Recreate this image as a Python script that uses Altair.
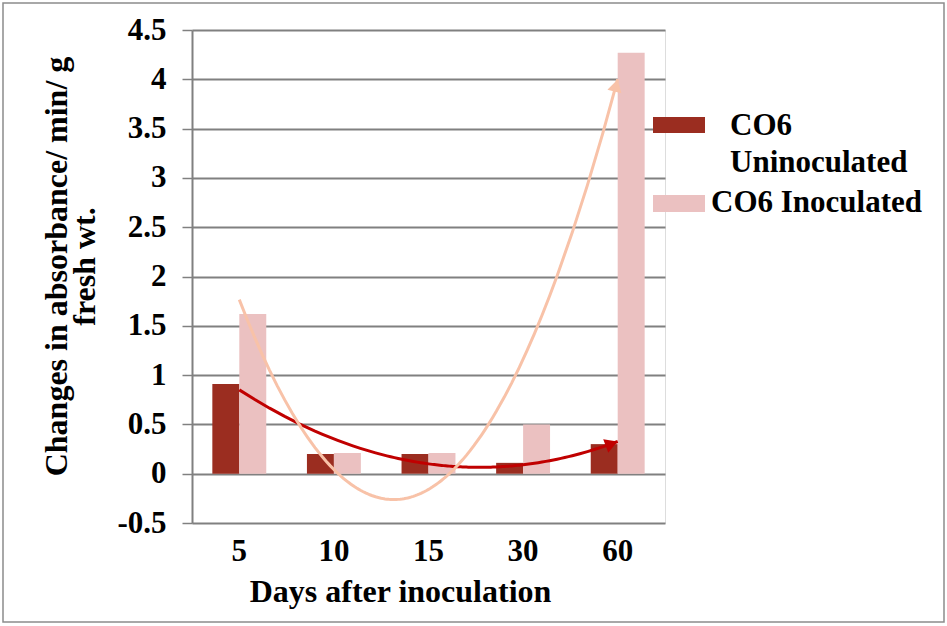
import altair as alt
import pandas as pd

# Days after inoculation and the two treatments
days = ["5", "10", "15", "30", "60"]
series = ["CO6 Uninoculated", "CO6 Inoculated"]
uninoculated = [0.91, 0.20, 0.20, 0.11, 0.30]
inoculated = [1.62, 0.21, 0.21, 0.50, 4.27]

bar_colors = ["#9B2D20", "#EBC1C1"]
trend_colors = ["#C00000", "#F8C2A8"]

rows = []
for i, d in enumerate(days):
    rows.append({"day": d, "idx": i + 1, "series": series[0], "value": uninoculated[i]})
    rows.append({"day": d, "idx": i + 1, "series": series[1], "value": inoculated[i]})
df = pd.DataFrame(rows)

W, H = 473, 493
SERIF = "Liberation Serif"
GRID = "#808080"

y_scale = alt.Scale(domain=[-0.5, 4.5], nice=False, zero=False)
idx_scale = alt.Scale(domain=[0.5, 5.5], nice=False, zero=False)

base = alt.Chart(df)

bars = base.mark_bar().encode(
    x=alt.X(
        "day:N", sort=days,
        scale=alt.Scale(paddingInner=0.43, paddingOuter=0.215),
        axis=alt.Axis(
            title="Days after inoculation", labelAngle=0, domain=False, ticks=False, grid=False,
            labelFont=SERIF, labelFontSize=31, labelFontWeight="bold", labelColor="black",
            labelPadding=13,
            titleFont=SERIF, titleFontSize=32, titleFontWeight="bold", titleColor="black",
            titlePadding=10, titleX=208,
        ),
    ),
    xOffset=alt.XOffset("series:N", sort=series, scale=alt.Scale(paddingInner=0, paddingOuter=0)),
    y=alt.Y(
        "value:Q", scale=y_scale,
        axis=alt.Axis(
            title=["Changes in absorbance/ min/ g", "fresh wt."],
            values=[-0.5, 0, 0.5, 1, 1.5, 2, 2.5, 3, 3.5, 4, 4.5],
            labelExpr="'' + datum.value",
            grid=True, gridColor=GRID, gridWidth=2,
            domain=True, domainColor=GRID, domainWidth=2,
            ticks=True, tickColor=GRID, tickWidth=1.5, tickSize=10,
            labelFont=SERIF, labelFontSize=31, labelFontWeight="bold", labelColor="black",
            labelPadding=16,
            titleFont=SERIF, titleFontSize=32, titleFontWeight="bold", titleColor="black",
            titlePadding=15, titleLineHeight=28, titleY=236,
        ),
    ),
    y2=alt.datum(0),
    color=alt.Color("series:N", sort=series,
                    scale=alt.Scale(domain=series, range=bar_colors), legend=None),
)


def trend(name, color):
    # second-order polynomial trendline through one treatment
    return base.transform_filter(alt.datum.series == name).transform_regression(
        "idx", "value", method="poly", order=2, extent=[1, 5]
    ).mark_line(color=color, strokeWidth=3).encode(
        x=alt.X("idx:Q", scale=idx_scale, axis=None),
        y=alt.Y("value:Q", scale=y_scale),
    )


def arrow(name, color):
    # arrowhead at the end of the trendline, turned along its slope
    px_x, px_y, h = W / 5, H / 5, 6.5
    return base.transform_filter(alt.datum.series == name).transform_regression(
        "idx", "value", method="poly", order=2, params=True
    ).transform_calculate(
        y_end="datum.coef[0] + datum.coef[1]*5 + datum.coef[2]*25",
        slope="datum.coef[1] + 2*datum.coef[2]*5",
    ).transform_calculate(
        ang=f"atan2({px_x}, datum.slope*{px_y})",
    ).transform_calculate(
        x_c=f"5 - {h}*sin(datum.ang)/{px_x}",
        y_c=f"datum.y_end - {h}*cos(datum.ang)/{px_y}",
        ang_deg="datum.ang*180/PI",
    ).mark_point(shape="triangle-up", filled=True, size=210, color=color, opacity=1).encode(
        x=alt.X("x_c:Q", scale=idx_scale, axis=None),
        y=alt.Y("y_c:Q", scale=y_scale),
        angle=alt.Angle("ang_deg:Q", scale=None),
    )


one = alt.Chart(alt.Data(values=[{}]))

# legend drawn beside the tallest bar
legend_font = dict(font=SERIF, fontSize=31, fontWeight="bold", color="black",
                   align="left", baseline="alphabetic")
leg_sym1 = one.mark_rect(color=bar_colors[0]).encode(
    x=alt.value(461), x2=alt.value(513), y=alt.value(87), y2=alt.value(103))
leg_sym2 = one.mark_rect(color=bar_colors[1]).encode(
    x=alt.value(461), x2=alt.value(513), y=alt.value(165), y2=alt.value(182))
leg_txt1 = one.mark_text(lineBreak=" ", lineHeight=37, **legend_font).encode(
    x=alt.value(538), y=alt.value(105), text=alt.value(series[0]))
leg_txt2 = one.mark_text(**legend_font).encode(
    x=alt.value(519), y=alt.value(182), text=alt.value(series[1]))

frame = one.mark_rect(fill=None, stroke="#8C8C8C", strokeWidth=1.5).encode(
    x=alt.value(-189), x2=alt.value(752), y=alt.value(-27), y2=alt.value(592))

chart = alt.layer(
    bars,
    trend(series[0], trend_colors[0]), arrow(series[0], trend_colors[0]),
    trend(series[1], trend_colors[1]), arrow(series[1], trend_colors[1]),
    leg_sym1, leg_sym2, leg_txt1, leg_txt2, frame,
).resolve_scale(x="independent").properties(
    width=W, height=H,
    autosize=alt.AutoSizeParams(type="none"),
    padding={"left": 192, "top": 30, "right": 282, "bottom": 103},
).configure_view(stroke=None).configure(background="white")

chart.save("out.html", embed_options={"renderer": "svg", "actions": False})
